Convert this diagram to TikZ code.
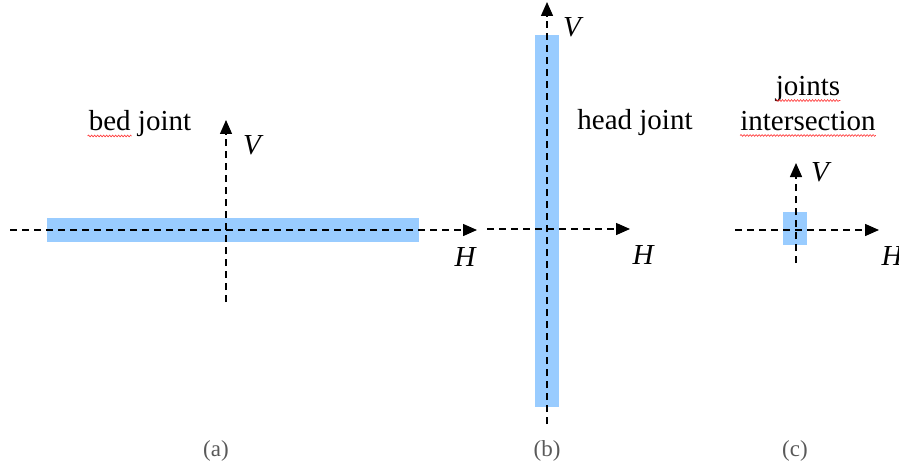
\documentclass[tikz,border=0pt]{standalone}
\usepackage{fontspec}
\setmainfont{Liberation Serif}
\usetikzlibrary{arrows.meta,decorations.pathmorphing}
\definecolor{jointblue}{RGB}{153,204,255}

\begin{document}
\begin{tikzpicture}[
  x=1pt, y=-1pt,
  every node/.style={font=\fontsize{29}{33}\selectfont, inner sep=0pt},
  axis/.style={dashed, dash pattern=on 7pt off 5pt, line width=1.4pt,
               -{Triangle[length=14pt,width=12pt]}},
  joint/.style={fill=jointblue, draw=none},
  lab/.style={font=\fontsize{29}{33}\selectfont\itshape},
  panel/.style={font=\fontsize{23}{26}\selectfont, text=black!65},
  spell/.style={red!80, line width=0.6pt,
                decorate, decoration={snake, amplitude=0.9pt, segment length=3pt}}
]
\useasboundingbox (0,0) rectangle (899,468);

% (a) bed joint
\fill[joint] (47,218) rectangle (419,242);
\coordinate (aW) at (10,230);
\coordinate (aE) at (477,230);
\coordinate (aS) at (226,302);
\coordinate (aN) at (226,120);
\draw[axis] (aW) -- (aE);
\draw[axis] (aS) -- (aN);
\node[lab] (aV) at (252,145) {V};
\node[lab] (aH) at (465,257) {H};
\node (bed) at (140,124) {bed joint};
\draw[spell] ([xshift=-1pt,yshift=-5pt]bed.base west) -- ++(44,0);
\node[panel] (pa) at (216,451) {(a)};

% (b) head joint
\fill[joint] (535,35) rectangle (559,407);
\coordinate (bW) at (487,229);
\coordinate (bE) at (630,229);
\coordinate (bS) at (547,424);
\coordinate (bN) at (547,2);
\draw[axis] (bW) -- (bE);
\draw[axis] (bS) -- (bN);
\node[lab] (bV) at (572,27) {V};
\node[lab] (bH) at (643,255) {H};
\node (head) at (635,123) {head joint};
\node[panel] (pb) at (547,451) {(b)};

% (c) joints intersection
\fill[joint] (783,212) rectangle (807,245);
\coordinate (cW) at (735,230);
\coordinate (cE) at (879,230);
\coordinate (cS) at (796,263);
\coordinate (cN) at (796,163);
\draw[axis] (cW) -- (cE);
\draw[axis] (cS) -- (cN);
\node[lab] (cV) at (820,172) {V};
\node[lab] (cH) at (892,256) {H};
\node (jnt) at (808,89) {joints};
\node (isec) at (808,121) {intersection};
\draw[spell] ([yshift=-5pt]jnt.base west) -- ([yshift=-5pt]jnt.base east);
\draw[spell] ([yshift=-5pt]isec.base west) -- ([yshift=-5pt]isec.base east);
\node[panel] (pc) at (795,451) {(c)};
\end{tikzpicture}
\end{document}
